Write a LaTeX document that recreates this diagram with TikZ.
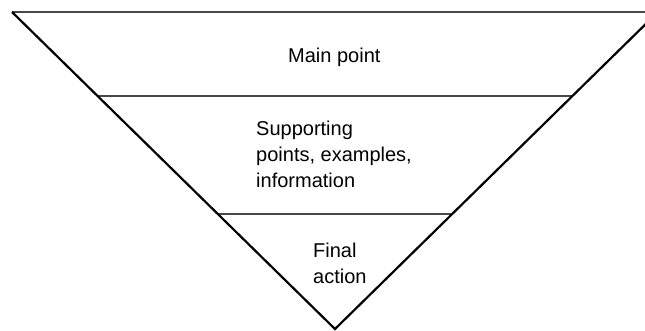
\documentclass[tikz,border=0pt]{standalone}
\usepackage{fontspec}
\setmainfont{Liberation Sans}
\usetikzlibrary{calc}
\begin{document}
\begin{tikzpicture}[x=1pt,y=-1pt,
  edge/.style={line width=2.2pt, black},
  band/.style={line width=1.8pt, black!72},
  lbl/.style={font=\fontsize{20}{26}\selectfont, inner sep=0pt, anchor=base west}]
\useasboundingbox (0,0) rectangle (645,330);
\begin{scope}
\clip (0,0) rectangle (645,330);
\coordinate (L) at (12,12);
\coordinate (R) at (658,12);
\coordinate (A) at (335,329);
\coordinate (B1l) at ($(L)!0.265!(A)$);
\coordinate (B1r) at ($(R)!0.265!(A)$);
\coordinate (B2l) at ($(L)!0.637!(A)$);
\coordinate (B2r) at ($(R)!0.637!(A)$);
\draw[band] (L) -- (R);
\draw[band] (B1l) -- (B1r);
\draw[band] (B2l) -- (B2r);
\draw[edge, line join=miter] (L) -- (A) -- (R);
\end{scope}
\node[lbl] (main) at (288,62) {Main point};
\node[lbl] (s1) at (256,135) {Supporting};
\node[lbl] (s2) at (256,161) {points, examples,};
\node[lbl] (s3) at (256,187) {information};
\node[lbl] (f1) at (313,257) {Final};
\node[lbl] (f2) at (313,283) {action};
\end{tikzpicture}
\end{document}
